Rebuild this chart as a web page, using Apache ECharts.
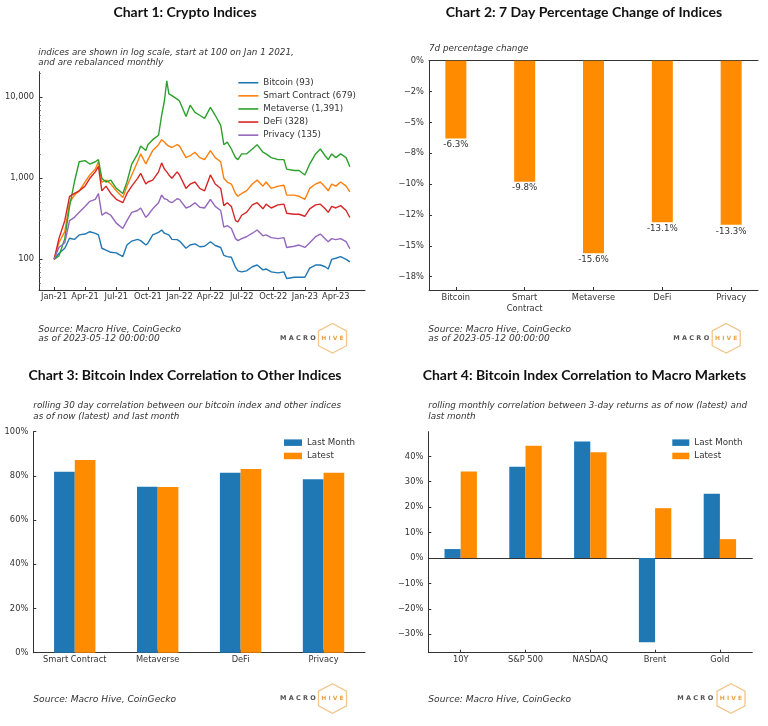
<!DOCTYPE html>
<html><head><meta charset="utf-8">
<script src="https://cdn.jsdelivr.net/npm/echarts@6/dist/echarts.min.js"></script>
<style>html,body{margin:0;padding:0;background:#fff}#c{width:768px;height:726px}</style>
</head><body><div id="c"></div>
<script>
// ---------- Chart 1 data (index levels, log scale) ----------
const dates = ['2021-01-01','2021-01-15','2021-02-01','2021-02-15','2021-03-01','2021-03-15','2021-04-01','2021-04-15','2021-05-01','2021-05-10','2021-05-20','2021-06-01','2021-06-15','2021-07-01','2021-07-20','2021-08-01','2021-08-15','2021-09-01','2021-09-10','2021-09-25','2021-10-01','2021-10-15','2021-11-01','2021-11-10','2021-11-18','2021-11-25','2021-12-01','2021-12-10','2021-12-25','2022-01-01','2022-01-20','2022-02-01','2022-02-15','2022-03-01','2022-03-15','2022-04-01','2022-04-15','2022-05-01','2022-05-10','2022-05-20','2022-06-01','2022-06-13','2022-06-20','2022-07-01','2022-07-15','2022-08-01','2022-08-15','2022-09-01','2022-09-10','2022-09-25','2022-10-15','2022-11-01','2022-11-09','2022-12-01','2022-12-15','2023-01-01','2023-01-15','2023-02-01','2023-02-15','2023-03-01','2023-03-10','2023-03-20','2023-04-01','2023-04-15','2023-05-01','2023-05-12'];
const bitcoin = [100,118,137,182,176,200,205,219,209,200,137,130,122,120,108,150,168,176,170,150,158,200,215,230,210,205,200,176,175,168,137,150,155,143,145,165,148,140,112,108,106,80,72,70,72,81,85,74,76,70,68,70,58,60,60,60,78,85,85,81,76,100,103,108,100,93];
const smartContract = [100,160,220,500,620,700,900,1100,1300,1600,900,950,850,700,580,800,1100,1600,2000,1500,1700,2200,2600,3000,2800,2600,2500,2400,2600,2500,1800,1900,2100,1800,1700,2200,1800,1600,1000,900,850,650,600,650,700,850,950,800,900,750,800,820,620,620,600,550,750,850,900,780,700,850,800,900,800,679];
const metaverse = [100,110,180,450,900,1600,1650,1500,1600,1700,1000,900,950,750,650,900,1500,2000,2500,2200,2600,3000,3400,6000,9000,16000,11000,10500,9500,9000,5800,8000,6500,6000,5500,7500,6000,4500,2600,2800,2300,1800,1700,2000,2000,2300,2600,2100,2000,1800,1700,1700,1300,1250,1250,1100,1500,2000,2300,1900,1700,2000,1800,2000,1800,1391];
const defi = [100,180,300,600,650,700,800,1000,1200,1400,700,800,650,550,500,650,800,1000,1150,850,900,950,1200,1550,1300,1200,1100,1000,1200,1100,750,850,900,750,700,1100,850,750,460,500,450,300,290,350,380,470,500,420,480,430,470,480,370,360,360,340,420,470,480,420,380,450,430,460,400,328];
const privacy = [100,140,160,300,330,380,450,520,550,650,350,380,350,280,240,300,380,400,430,330,350,420,500,620,560,550,520,500,560,550,430,450,500,440,430,550,450,400,250,260,240,180,170,180,190,210,230,195,200,185,180,185,140,145,150,140,160,190,205,180,165,180,175,180,165,135];
const lineNames = ['Bitcoin (93)','Smart Contract (679)','Metaverse (1,391)','DeFi (328)','Privacy (135)'];
const quarterTicks = ['2021-01-01','2021-04-01','2021-07-01','2021-10-01','2022-01-01','2022-04-01','2022-07-01','2022-10-01','2023-01-01','2023-04-01'];
const logTicks = [100,1000,10000];
const logMinorTicks = [50,60,70,80,90,200,300,400,500,600,700,800,900,2000,3000,4000,5000,6000,7000,8000,9000,20000];

// ---------- Chart 2 data ----------
const cats2 = ['Bitcoin','Smart\nContract','Metaverse','DeFi','Privacy'];
const change7d = [-6.3,-9.8,-15.6,-13.1,-13.3];
const ticks2 = [0,-2.5,-5,-7.5,-10,-12.5,-15,-17.5];
const tickLabels2 = ['0%','\u22122%','\u22125%','\u22128%','\u221210%','\u221212%','\u221215%','\u221218%'];

// ---------- Chart 3 data ----------
const cats3 = ['Smart Contract','Metaverse','DeFi','Privacy'];
const corrLastMonth3 = [81.9,75.1,81.4,78.5];
const corrLatest3 = [87.2,75.0,83.1,81.4];

// ---------- Chart 4 data ----------
const cats4 = ['10Y','S&P 500','NASDAQ','Brent','Gold'];
const corrLastMonth4 = [3.5,35.9,45.8,-33.2,25.3];
const corrLatest4 = [34.0,44.2,41.6,19.6,7.4];
const ticks4 = [-30,-20,-10,0,10,20,30,40];
const tickLabels4 = ['\u221230%','\u221220%','\u221210%','0%','10%','20%','30%','40%'];

const FONT = 'DejaVu Sans';
const AX = '#333';
const lineColors = ['#1f77b4','#ff7f0e','#2ca02c','#d62728','#9467bd'];
const BLUE = '#1f77b4', ORANGE = '#ff8c00';
const months = ['Jan','Feb','Mar','Apr','May','Jun','Jul','Aug','Sep','Oct','Nov','Dec'];

const axLine = {show:true, onZero:false, lineStyle:{color:AX, width:1}};
const axTick = {show:true, inside:true, length:3, lineStyle:{color:AX, width:1}};
const axLab = {color:'#333', fontSize:8.3, fontFamily:FONT};

const chart = echarts.init(document.getElementById('c'));
const tp = s => { const p = s.split('-').map(Number); return Date.UTC(p[0], p[1] - 1, p[2]); };
const qVals = quarterTicks.map(tp);

function logo(mx, hx, cy){
  const r = 14.8, w = 14;
  return [
    {type:'text', silent:true, style:{text:'M A C R O', x:mx, y:cy, fill:'#555', font:'bold 6.5px "DejaVu Sans"', align:'left', verticalAlign:'middle'}},
    {type:'polygon', silent:true, shape:{points:[[hx,cy-r],[hx+w,cy-r/2],[hx+w,cy+r/2],[hx,cy+r],[hx-w,cy+r/2],[hx-w,cy-r/2]]}, style:{fill:'none', stroke:'#f2c58a', lineWidth:1.3}},
    {type:'text', silent:true, style:{text:'H I V E', x:hx, y:cy, fill:'#e9a445', font:'bold 6px "DejaVu Sans"', align:'center', verticalAlign:'middle'}}
  ];
}
function txt(text, x, y, opt){
  return {type:'text', silent:true, style:Object.assign({text, x, y, fill:'#222', fontFamily:FONT, fontSize:8.7, align:'left', verticalAlign:'middle'}, opt||{})};
}
const titleStyle = {fontFamily:'Lato', fontWeight:'bold', fontSize:14, fill:'#111', align:'center'};
const subStyle = {fontStyle:'italic', fill:'#333', fontSize:8.8};
const srcStyle = {fontStyle:'italic', fill:'#333', fontSize:9.1};

const seriesLines = [bitcoin, smartContract, metaverse, defi, privacy].map((arr, i) => ({
  type:'line', name:lineNames[i], xAxisIndex:0, yAxisIndex:0, showSymbol:false, symbol:'none',
  lineStyle:{width:1.4, color:lineColors[i]}, itemStyle:{color:lineColors[i]},
  data: dates.map((d, j) => [tp(d), arr[j]])
}));

const option = {
  animation:false,
  backgroundColor:'#fff',
  textStyle:{fontFamily:FONT},
  grid:[
    {left:39, top:71.7, width:326, height:218.3},
    {left:429, top:60.7, width:329, height:229.3},
    {left:33.3, top:431.7, width:331.7, height:221},
    {left:428.3, top:431.7, width:324, height:221}
  ],
  legend:[
    {left:238.3, top:76.2, padding:0, orient:'vertical', icon:'rect', itemWidth:20, itemHeight:1.6, itemGap:0, selectedMode:false,
     textStyle:{fontSize:8.7, lineHeight:13.1, color:'#333', fontFamily:FONT}, data:lineNames},
    {left:284, top:436, padding:0, orient:'vertical', icon:'rect', itemWidth:18, itemHeight:6.5, itemGap:0, selectedMode:false,
     textStyle:{fontSize:8.7, lineHeight:13.3, color:'#333', fontFamily:FONT}, data:['Last Month','Latest']},
    {left:672.3, top:436, padding:0, orient:'vertical', icon:'rect', itemWidth:17, itemHeight:6.5, itemGap:0, selectedMode:false,
     textStyle:{fontSize:8.7, lineHeight:13.3, color:'#333', fontFamily:FONT}, data:['Last Month','Latest']}
  ],
  xAxis:[
    {type:'value', gridIndex:0, min:tp('2020-11-18'), max:tp('2023-06-25'), axisLine:axLine,
     axisTick:Object.assign({}, axTick, {customValues:qVals}),
     axisLabel:Object.assign({}, axLab, {margin:3, customValues:qVals, hideOverlap:false,
       formatter:v => { const d = new Date(v); return months[d.getUTCMonth()] + '-' + String(d.getUTCFullYear()).slice(2); }}),
     splitLine:{show:false}},
    {type:'value', gridIndex:1, min:-0.39, max:4.39, axisLine:axLine,
     axisTick:Object.assign({}, axTick, {customValues:[0,1,2,3,4]}),
     axisLabel:Object.assign({}, axLab, {margin:3, lineHeight:10.5, verticalAlign:'top', customValues:[0,1,2,3,4], formatter:v => cats2[Math.round(v)]}),
     splitLine:{show:false}},
    {type:'value', gridIndex:1, position:'top', min:0, max:1, axisLine:axLine, axisTick:{show:false}, axisLabel:{show:false}, splitLine:{show:false}},
    {type:'category', gridIndex:2, data:cats3, axisLine:axLine,
     axisTick:Object.assign({}, axTick, {alignWithLabel:true}),
     axisLabel:Object.assign({}, axLab, {margin:3}), splitLine:{show:false}},
    {type:'category', gridIndex:3, data:cats4, axisLine:axLine,
     axisTick:Object.assign({}, axTick, {alignWithLabel:true}),
     axisLabel:Object.assign({}, axLab, {margin:3}), splitLine:{show:false}},
    {type:'value', gridIndex:3, min:0, max:1, axisLine:{show:true, onZero:true, lineStyle:{color:AX, width:1}}, axisTick:{show:false}, axisLabel:{show:false}, splitLine:{show:false}}
  ],
  yAxis:[
    {type:'log', logBase:10, gridIndex:0, position:'left', min:41.8, max:20700, axisLine:axLine,
     axisTick:Object.assign({}, axTick, {length:3.5, customValues:logTicks}),
     axisLabel:Object.assign({}, axLab, {margin:5, customValues:logTicks, formatter:v => Math.round(v).toLocaleString('en-US')}),
     splitLine:{show:false}, minorTick:{show:false}},
    {type:'log', logBase:10, gridIndex:0, position:'left', offset:0, min:41.8, max:20700, axisLine:{show:false},
     axisTick:{show:true, inside:true, length:2, lineStyle:{color:'#666', width:0.8}, customValues:logMinorTicks},
     axisLabel:{show:false}, splitLine:{show:false}},
    {type:'value', gridIndex:1, min:-18.58, max:0, axisLine:axLine,
     axisTick:Object.assign({}, axTick, {customValues:ticks2}),
     axisLabel:Object.assign({}, axLab, {margin:5, customValues:ticks2, formatter:v => tickLabels2[ticks2.findIndex(t => Math.abs(t - v) < 1e-6)]}),
     splitLine:{show:false}},
    {type:'value', gridIndex:2, min:0, max:100, interval:20, axisLine:axLine, axisTick:axTick,
     axisLabel:Object.assign({}, axLab, {margin:5, formatter:'{value}%'}), splitLine:{show:false}},
    {type:'value', gridIndex:3, min:-37.3, max:49.7, axisLine:axLine,
     axisTick:Object.assign({}, axTick, {customValues:ticks4}),
     axisLabel:Object.assign({}, axLab, {margin:5, customValues:ticks4, formatter:v => tickLabels4[ticks4.findIndex(t => Math.abs(t - v) < 1e-6)]}),
     splitLine:{show:false}}
  ],
  series: seriesLines.concat([
    {type:'bar', name:'7d', xAxisIndex:1, yAxisIndex:2, barWidth:21, itemStyle:{color:ORANGE},
     label:{show:true, position:'bottom', distance:2, color:'#333', fontSize:8.7, fontFamily:FONT, formatter:p => p.value[1].toFixed(1) + '%'},
     data: change7d.map((v, i) => [i, v])},
    {type:'bar', name:'Last Month', xAxisIndex:3, yAxisIndex:3, barWidth:20.7, barGap:'0%', itemStyle:{color:BLUE}, data:corrLastMonth3},
    {type:'bar', name:'Latest', xAxisIndex:3, yAxisIndex:3, barWidth:20.7, barGap:'0%', itemStyle:{color:ORANGE}, data:corrLatest3},
    {type:'bar', name:'Last Month', xAxisIndex:4, yAxisIndex:4, barWidth:16.2, barGap:'0%', itemStyle:{color:BLUE}, data:corrLastMonth4},
    {type:'bar', name:'Latest', xAxisIndex:4, yAxisIndex:4, barWidth:16.2, barGap:'0%', itemStyle:{color:ORANGE}, data:corrLatest4}
  ]),
  graphic:[
    txt('Chart 1: Crypto Indices', 185, 12.7, titleStyle),
    txt('Chart 2: 7 Day Percentage Change of Indices', 584, 12.7, titleStyle),
    txt('Chart 3: Bitcoin Index Correlation to Other Indices', 185, 375.7, titleStyle),
    txt('Chart 4: Bitcoin Index Correlation to Macro Markets', 584.4, 375.7, titleStyle),
    txt('indices are shown in log scale, start at 100 on Jan 1 2021,\nand are rebalanced monthly', 38.3, 47.7, Object.assign({verticalAlign:'top', lineHeight:10}, subStyle)),
    txt('7d percentage change', 429, 49, subStyle),
    txt('rolling 30 day correlation between our bitcoin index and other indices\nas of now (latest) and last month', 33.3, 400.7, Object.assign({verticalAlign:'top', lineHeight:10.7}, subStyle)),
    txt('rolling monthly correlation between 3-day returns as of now (latest) and\nlast month', 428.3, 400.7, Object.assign({verticalAlign:'top', lineHeight:10.7}, subStyle)),
    txt('Source: Macro Hive, CoinGecko\nas of 2023-05-12 00:00:00', 38.3, 324.4, Object.assign({verticalAlign:'top', lineHeight:9.7}, srcStyle)),
    txt('Source: Macro Hive, CoinGecko\nas of 2023-05-12 00:00:00', 428.3, 324.4, Object.assign({verticalAlign:'top', lineHeight:9.7}, srcStyle)),
    txt('Source: Macro Hive, CoinGecko', 33.3, 700, srcStyle),
    txt('Source: Macro Hive, CoinGecko', 428.3, 700, srcStyle)
  ].concat(logo(280, 332.5, 338.3), logo(673.3, 726.2, 338.3), logo(280, 332.5, 698.5), logo(677.3, 731, 698.5))
};
chart.setOption(option);
</script></body></html>
